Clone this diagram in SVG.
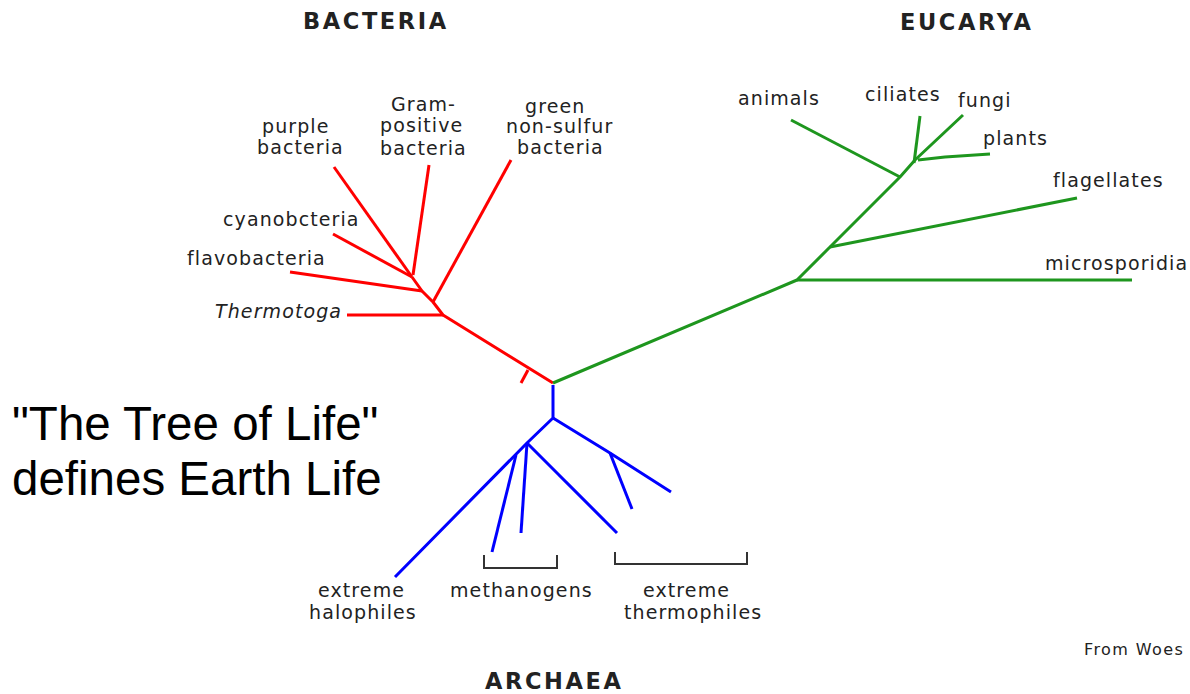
<svg xmlns="http://www.w3.org/2000/svg" width="1190" height="694" viewBox="0 0 1190 694">
<style>
.lbl{font-family:"DejaVu Sans",Verdana,sans-serif;font-size:19px;letter-spacing:1.1px;fill:#222}
.ttl{font-family:"DejaVu Sans",Verdana,sans-serif;font-size:22.5px;font-weight:bold;letter-spacing:2.6px;fill:#222}
.big{font-family:"Liberation Sans",Arial,sans-serif;font-size:47.5px;fill:#000}
.src{font-family:"DejaVu Sans",Verdana,sans-serif;font-size:16px;letter-spacing:1.4px;fill:#222}
.r{stroke:#ff0000}.g{stroke:#1e961e}.b{stroke:#0000ff}
.br{fill:none;stroke-width:3;stroke-linejoin:round}
.bk{fill:none;stroke:#333;stroke-width:2}
</style>
<rect width="1190" height="694" fill="#fff"/>
<g id="connectors">
  <!-- bacteria (red) -->
  <polyline class="br r" points="553,383 443,315 433,302 422,291 412,277"/>
  <polyline class="br r" points="528,370 521,383"/>
  <polyline class="br r" points="347,315 443,315"/>
  <polyline class="br r" points="290,272 422,291"/>
  <polyline class="br r" points="333,234 412,277"/>
  <polyline class="br r" points="334,167 412,277"/>
  <polyline class="br r" points="429,165 413,275"/>
  <polyline class="br r" points="511,160 433,302"/>
  <!-- eucarya (green) -->
  <polyline class="br g" points="553,383 797,280 830,247 900,177 915,160 963,115"/>
  <polyline class="br g" points="797,280 1132,280"/>
  <polyline class="br g" points="830,247 1077,198"/>
  <polyline class="br g" points="900,177 791,120"/>
  <polyline class="br g" points="914,163 920,116"/>
  <polyline class="br g" points="918,160 945,157 990,154"/>
  <!-- archaea (blue) -->
  <polyline class="br b" points="553,385 553,418 527,443 395,577"/>
  <polyline class="br b" points="516,455 492,552"/>
  <polyline class="br b" points="527,443 521,533"/>
  <polyline class="br b" points="527,443 617,533"/>
  <polyline class="br b" points="553,418 610,453 671,492"/>
  <polyline class="br b" points="610,453 632,509"/>
  <!-- brackets -->
  <polyline class="bk" points="484,555 484,568 557,568 557,555"/>
  <polyline class="bk" points="615,552 615,564 747,564 747,552"/>
</g>
<g id="title-bacteria"><text class="ttl" x="303" y="29">BACTERIA</text></g>
<g id="title-eucarya"><text class="ttl" x="900" y="30">EUCARYA</text></g>
<g id="title-archaea"><text class="ttl" x="485" y="689">ARCHAEA</text></g>
<g id="purple-bacteria"><text class="lbl" x="262" y="133">purple</text><text class="lbl" x="257" y="154">bacteria</text></g>
<g id="gram-positive"><text class="lbl" x="391" y="111">Gram-</text><text class="lbl" x="380" y="132">positive</text><text class="lbl" x="380" y="155">bacteria</text></g>
<g id="green-non-sulfur"><text class="lbl" x="525" y="113">green</text><text class="lbl" x="506" y="133">non-sulfur</text><text class="lbl" x="517" y="154">bacteria</text></g>
<g id="cyanobacteria"><text class="lbl" x="223" y="226">cyanobcteria</text></g>
<g id="flavobacteria"><text class="lbl" x="187" y="265">flavobacteria</text></g>
<g id="thermotoga"><text class="lbl" x="215" y="318" font-style="italic">Thermotoga</text></g>
<g id="animals"><text class="lbl" x="738" y="105">animals</text></g>
<g id="ciliates"><text class="lbl" x="865" y="101">ciliates</text></g>
<g id="fungi"><text class="lbl" x="958" y="107">fungi</text></g>
<g id="plants"><text class="lbl" x="983" y="145">plants</text></g>
<g id="flagellates"><text class="lbl" x="1053" y="187">flagellates</text></g>
<g id="microsporidia"><text class="lbl" x="1045" y="270">microsporidia</text></g>
<g id="halophiles"><text class="lbl" x="318" y="597">extreme</text><text class="lbl" x="309" y="619">halophiles</text></g>
<g id="methanogens"><text class="lbl" x="450" y="597">methanogens</text></g>
<g id="thermophiles"><text class="lbl" x="643" y="597">extreme</text><text class="lbl" x="624" y="619">thermophiles</text></g>
<g id="caption"><text class="big" x="12" y="440">"The Tree of Life"</text><text class="big" x="12" y="495">defines Earth Life</text></g>
<g id="source"><text class="src" x="1084" y="655">From Woes</text></g>
</svg>
